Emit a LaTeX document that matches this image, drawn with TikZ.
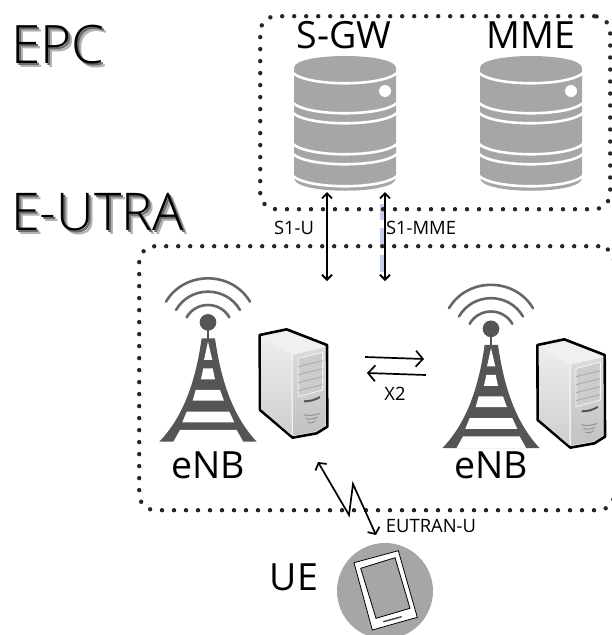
\documentclass[tikz,border=0pt]{standalone}
\usepackage{fontspec}
\setmainfont{Open Sans}
\newfontfamily\titlefont{Open Sans Light}
\usetikzlibrary{arrows.meta}
\definecolor{dbgray}{HTML}{A6A6A6}
\definecolor{towergray}{HTML}{555555}
\definecolor{wavegray}{HTML}{666666}
\definecolor{barblue}{HTML}{C7CDE8}
\tikzset{
  x=1pt,y=-1pt,
  lab/.style={inner sep=0pt,anchor=base,text=black},
  big/.style={lab,font=\fontsize{37.5}{42}\selectfont},
  small/.style={lab,font=\fontsize{18.4}{22}\selectfont},
  dotbox/.style={draw=black!85,line width=4.4pt,line cap=round,dash pattern=on 0pt off 12pt,rounded corners=16pt},
  link/.style={draw=black,line width=1.8pt,{Straight Barb[length=5pt,width=10pt]}-{Straight Barb[length=5pt,width=10pt]}},
  onearrow/.style={draw=black,line width=1.7pt,-{Straight Barb[length=7pt,width=16pt]}},
  pics/dbicon/.style={code={
    \fill[dbgray] (-51,68) .. controls (-51,52) and (51,52) .. (51,68)
       -- (51,178) .. controls (51,195) and (-51,195) .. (-51,178) -- cycle;
    \foreach \c in {72,102,112,143,153,175}{
      \draw[white,line width=2.6pt] (-53,\c) .. controls (-40,\c+15) and (40,\c+15) .. (53,\c);
    }
    \fill[white] (40,91) circle[radius=6];
  }},
  pics/enbtower/.style={code={
    \begin{scope}[x=0.3333pt,y=-0.3333pt]
    \foreach \a/\b/\c in {108/125/55,138/150/95,170/172/135}{
      \draw[wavegray,line width=2.6pt,line cap=round] (\a,\b) .. controls (\a+0.22*234*2-0.44*\a,\b-1.333*\b+1.333*\c) and (468-\a-0.44*234+0.44*\a,\b-1.333*\b+1.333*\c) .. (468-\a,\b);
    }
    \fill[towergray] (234,187) circle[radius=25];
    \draw[towergray,line width=2pt] (234,187) -- (234,240);
    \fill[towergray] (215,235) -- (255,235) .. controls (270,340) and (300,460) .. (380,545)
       -- (88,545) .. controls (170,460) and (200,340) .. (215,235) -- cycle;
    \fill[white] (234,245) -- (222,300) -- (247,300) -- cycle;
    \fill[white] (220,325) -- (248,325) -- (255,358) -- (213,358) -- cycle;
    \fill[white] (197,390) -- (270,390) -- (282,422) -- (188,422) -- cycle;
    \fill[white] (170,455) -- (298,455) -- (313,487) -- (157,487) -- cycle;
    \fill[white] (130,546) -- (150,510) -- (320,510) -- (340,546) -- cycle;
    \end{scope}
  }},
  pics/serverbox/.style={code={
    \begin{scope}[x=0.3333pt,y=-0.3333pt]
    \draw[black,line width=2.6pt,line join=round,fill=gray!12] (389,225) -- (470,208) -- (591,255) -- (592,500) -- (560,520) -- (488,533) -- (390,450) -- cycle;
    \shade[top color=gray!14,bottom color=gray!38] (394,232) -- (485,283) -- (485,526) -- (394,447) -- cycle;
    \shade[top color=gray!28,bottom color=gray!48] (490,284) -- (586,262) -- (586,498) -- (558,514) -- (490,527) -- cycle;
    \fill[gray!40] (505,295) -- (578,277) -- (578,390) -- (505,410) -- cycle;
    \draw[gray!8,line width=.8pt] (505,295) -- (578,277) -- (578,390) -- (505,410) -- cycle;
    \foreach \t in {0,1,2,3}{
      \draw[gray!75,line width=.6pt] (505,320+\t*24) -- (578,302+\t*24);
    }
    \draw[towergray,line width=2pt] (522,424) .. controls (540,424) and (555,420) .. (570,411);
    \foreach \t/\w in {0/24,1/18,2/12}{
      \draw[gray!85,line width=1pt] (545-\w,464+\t*11) .. controls (545-\w/2,469+\t*11) and (545+\w/2,466+\t*11) .. (545+\w,460+\t*11);
    }
    \end{scope}
  }}
}
\begin{document}
\begin{tikzpicture}
\useasboundingbox (0,0) rectangle (611,635);
% titles
\foreach \dx/\col in {4/black!30,2/black!58,0/black}{
  \node[inner sep=0pt,anchor=base west,text=\col,font=\titlefont\fontsize{53}{60}\selectfont] at (11+\dx,63+\dx) {EPC};
  \node[inner sep=0pt,anchor=base west,text=\col,font=\titlefont\fontsize{52}{60}\selectfont] at (11+\dx,230+\dx) {E-UTRA};
}
% tint beside the S1-MME link
\foreach \a/\b in {204/220,228/245,255/272}{
  \fill[barblue] (380,\a) rectangle (384,\b);
}
% region outlines
\node[dotbox,minimum width=350pt,minimum height=193pt,anchor=north west,inner sep=0pt] (epcbox) at (258,14) {};
\node[dotbox,minimum width=475pt,minimum height=264pt,anchor=north west,inner sep=0pt] (utrabox) at (137,244) {};
% EPC
\pic at (345,0) {dbicon};
\pic at (531,0) {dbicon};
\node[big] (sgw) at (344,48) {S-GW};
\node[big] (mme) at (531,48) {MME};
% eNBs
\pic at (130,260) {enbtower};
\pic at (130,260) {serverbox};
\pic at (413,266.5) {enbtower};
\pic at (407.7,270) {serverbox};
\node[big] (enba) at (208,478) {eNB};
\node[big] (enbb) at (491,478) {eNB};
% links
\coordinate (sua) at (327,192);
\coordinate (sub) at (327,281);
\coordinate (sma) at (385,192);
\coordinate (smb) at (385,281);
\draw[link] (sua) -- (sub);
\draw[link] (sma) -- (smb);
\node[small] (s1u) at (294,234) {S1-U};
\node[small] (s1mme) at (421,234) {S1-MME};
\coordinate (xa) at (365,357);
\coordinate (xb) at (424,359);
\coordinate (xc) at (426,375);
\coordinate (xd) at (367,373);
\draw[onearrow] (xa) -- (xb);
\draw[onearrow] (xc) -- (xd);
\node[small] (x2) at (395,400) {X2};
% UE
\fill[dbgray] (385,591) circle[radius=48];
\draw[black,line width=.8pt,fill=white] (354,562.7) -- (398.3,550.7) -- (417.3,617.3) -- (372.3,630) -- cycle;
\draw[black,line width=.8pt,fill=dbgray] (360.7,568.3) -- (395,557.7) -- (410,608.3) -- (376,618.3) -- cycle;
\draw[black!70,line width=1.5pt] (383.3,621.7) -- (401.7,616.7);
\node[big] (ue) at (294,590) {UE};
\coordinate (ra) at (318,462);
\coordinate (rb) at (349,515);
\coordinate (rc) at (353,484);
\coordinate (rd) at (376,535);
\draw[draw=black,line width=1.7pt,line join=miter,{Straight Barb[length=5pt,width=13pt]}-{Straight Barb[length=5pt,width=13pt]}] (ra) -- (rb) -- (rc) -- (rd);
\node[small] (eutran) at (431,532) {EUTRAN-U};
\end{tikzpicture}
\end{document}
